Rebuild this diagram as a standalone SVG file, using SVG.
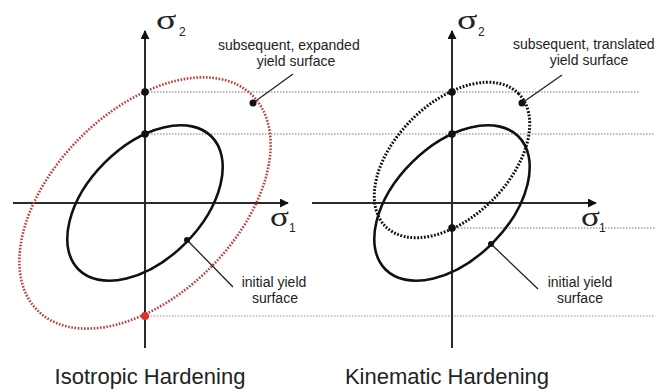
<svg xmlns="http://www.w3.org/2000/svg" width="655" height="390" viewBox="0 0 655 390">
<style>
.axis{stroke:#2a2a2a;stroke-width:2;fill:none}
.init{stroke:#111;stroke-width:2.6;fill:none}
.reddot{stroke:#c23a3a;stroke-width:2.6;fill:none;stroke-dasharray:1.6 1.6}
.blkdot{stroke:#111;stroke-width:3;fill:none;stroke-dasharray:1.8 1.6}
.guide{stroke:#777;stroke-width:1;stroke-dasharray:1.5 1.5;fill:none}
.guidered{stroke:#d77;stroke-width:1;stroke-dasharray:1.5 1.5;fill:none}
.leader{stroke:#222;stroke-width:1.3;fill:none}
.lbl{font-family:"Liberation Sans",Arial,sans-serif;font-size:14px;fill:#222;text-anchor:middle}
.title{font-family:"Liberation Sans",Arial,sans-serif;font-size:22px;fill:#222;text-anchor:middle}
.sig{font-family:"Liberation Serif","Times New Roman",serif;font-size:27px;fill:#222}
.sub{font-family:"Liberation Sans",Arial,sans-serif;font-size:12px;fill:#222}
</style>
<defs>
<marker id="arr" viewBox="0 0 10 10" refX="9" refY="5" markerWidth="9" markerHeight="9" markerUnits="userSpaceOnUse" orient="auto">
<path d="M0,0 L10,5 L0,10 z" fill="#111"/>
</marker>
</defs>
<rect width="655" height="390" fill="#fff"/>
<g id="connectors">
<line class="guide" x1="145" y1="92" x2="640" y2="92"/>
<line class="guide" x1="145" y1="134" x2="655" y2="134"/>
<line class="guide" x1="452" y1="228" x2="655" y2="228"/>
<line class="guidered" x1="145" y1="316" x2="655" y2="316"/>
<line class="leader" x1="253" y1="103" x2="293" y2="74"/>
<line class="leader" x1="187" y1="240" x2="233" y2="287"/>
<line class="leader" x1="522" y1="103" x2="562" y2="75"/>
<line class="leader" x1="491" y1="244" x2="538" y2="289"/>
</g>
<g id="iso-axes">
<line class="axis" x1="145" y1="348" x2="145" y2="31" marker-end="url(#arr)"/>
<line class="axis" x1="13" y1="203" x2="288" y2="203" marker-end="url(#arr)"/>
<text class="sig" transform="translate(156,29) scale(1.4,1)">σ</text><text class="sub" x="179" y="36">2</text>
<text class="sig" transform="translate(270,226) scale(1.3,1)">σ</text><text class="sub" x="289" y="232">1</text>
</g>
<g id="iso-initial">
<ellipse class="init" cx="0" cy="0" rx="94" ry="57" transform="translate(145,203) rotate(-45)"/>
</g>
<g id="iso-expanded">
<ellipse class="reddot" cx="0" cy="0" rx="152" ry="92" transform="translate(145,203) rotate(-45)"/>
</g>
<g id="iso-points">
<circle cx="145" cy="92" r="3.8" fill="#111"/>
<circle cx="145" cy="134" r="3.8" fill="#111"/>
<circle cx="145" cy="316" r="4" fill="#e03030"/>
<circle cx="253" cy="103" r="3.5" fill="#111"/>
<circle cx="187" cy="240" r="3" fill="#111"/>
</g>
<g id="iso-labels">
<text class="lbl" x="218" y="50" style="text-anchor:start">subsequent, expanded</text>
<text class="lbl" x="296" y="66">yield surface</text>
<text class="lbl" x="274" y="287">initial yield</text>
<text class="lbl" x="275" y="303">surface</text>
<text class="title" x="150" y="384">Isotropic Hardening</text>
</g>
<g id="kin-axes">
<line class="axis" x1="452" y1="348" x2="452" y2="31" marker-end="url(#arr)"/>
<line class="axis" x1="312" y1="203" x2="596" y2="203" marker-end="url(#arr)"/>
<text class="sig" transform="translate(457,29) scale(1.4,1)">σ</text><text class="sub" x="478" y="36">2</text>
<text class="sig" transform="translate(581,226) scale(1.3,1)">σ</text><text class="sub" x="599" y="232">1</text>
</g>
<g id="kin-initial">
<ellipse class="init" cx="0" cy="0" rx="94" ry="57" transform="translate(452,203) rotate(-45)"/>
</g>
<g id="kin-translated">
<ellipse class="blkdot" cx="0" cy="0" rx="94" ry="57" transform="translate(452,160) rotate(-45)"/>
</g>
<g id="kin-points">
<circle cx="452" cy="92" r="3.8" fill="#111"/>
<circle cx="452" cy="134" r="3.8" fill="#111"/>
<circle cx="452" cy="228" r="3.8" fill="#111"/>
<circle cx="522" cy="103" r="3.5" fill="#111"/>
<circle cx="491" cy="244" r="3" fill="#111"/>
</g>
<g id="kin-labels">
<text class="lbl" x="513" y="49" style="text-anchor:start">subsequent, translated</text>
<text class="lbl" x="589" y="65">yield surface</text>
<text class="lbl" x="580" y="287">initial yield</text>
<text class="lbl" x="580" y="303">surface</text>
<text class="title" x="447" y="384">Kinematic Hardening</text>
</g>
</svg>
